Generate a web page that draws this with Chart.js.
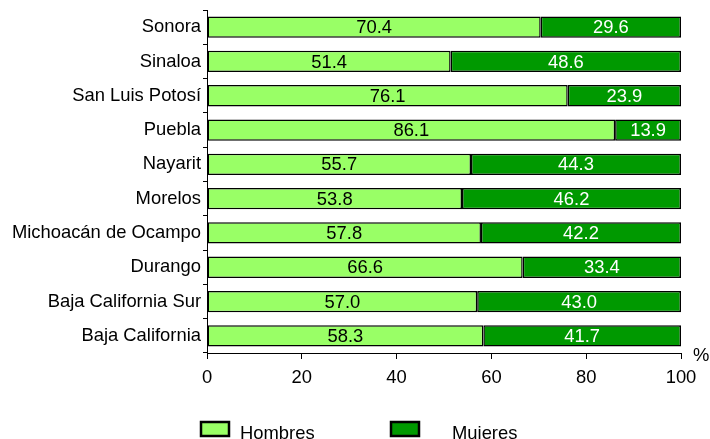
<!DOCTYPE html>
<html>
<head>
<meta charset="utf-8">
<script src="https://cdn.jsdelivr.net/npm/chart.js@4"></script>
<style>
html,body{margin:0;padding:0;background:#fff;}
#wrap{width:710px;height:439px;position:relative;}
</style>
</head>
<body>
<div id="wrap"><canvas id="c" width="710" height="439"></canvas></div>
<script>
const categories = ["Sonora","Sinaloa","San Luis Potosí","Puebla","Nayarit","Morelos","Michoacán de Ocampo","Durango","Baja California Sur","Baja California"];
const hombres = [70.4, 51.4, 76.1, 86.1, 55.7, 53.8, 57.8, 66.6, 57.0, 58.3];
const mujeres = [29.6, 48.6, 23.9, 13.9, 44.3, 46.2, 42.2, 33.4, 43.0, 41.7];
const seriesNames = ["Hombres","Mujeres"];
const xTicks = [0,20,40,60,80,100];
const axisUnit = "%";

const FONT = "'Liberation Sans', Arial, sans-serif";
const FS = 18.4;
const LIGHT = "#99FF66", DARK = "#009900";

const labelPlugin = {
  id: 'barLabels',
  afterDatasetsDraw(chart) {
    const ctx = chart.ctx;
    ctx.save();
    ctx.font = FS + "px " + FONT;
    ctx.textAlign = 'center';
    ctx.textBaseline = 'middle';
    chart.data.datasets.forEach((ds, di) => {
      const meta = chart.getDatasetMeta(di);
      meta.data.forEach((bar, i) => {
        const v = ds.data[i];
        const cx = (bar.x + bar.base) / 2;
        ctx.fillStyle = di === 0 ? '#000' : '#fff';
        ctx.fillText(v.toFixed(1), cx, bar.y + 1);
      });
    });
    // unit label
    const xs = chart.scales.x;
    ctx.fillStyle = '#000';
    ctx.textAlign = 'left';
    ctx.fillText(axisUnit, xs.right + 12, xs.top + 3);
    // legend
    const items = [{x:201, tx:240}, {x:391, tx:452}];
    chart.data.datasets.forEach((ds, di) => {
      const it = items[di];
      ctx.fillStyle = ds.backgroundColor;
      ctx.fillRect(it.x, 422, 28, 14);
      ctx.lineWidth = 2.5;
      ctx.strokeStyle = '#000';
      ctx.strokeRect(it.x, 422, 28, 14);
      ctx.fillStyle = '#000';
      ctx.textAlign = 'left';
      ctx.textBaseline = 'alphabetic';
      ctx.fillText(ds.label, it.tx, 438.5);
      ctx.textBaseline = 'middle';
    });
    ctx.restore();
  }
};

new Chart(document.getElementById('c'), {
  type: 'bar',
  data: {
    labels: categories,
    datasets: [
      {label: seriesNames[0], data: hombres, backgroundColor: LIGHT, borderColor: '#000', borderWidth: 1.5, borderSkipped: false},
      {label: seriesNames[1], data: mujeres, backgroundColor: DARK, borderColor: '#000', borderWidth: 1.5, borderSkipped: false}
    ]
  },
  options: {
    indexAxis: 'y',
    responsive: false,
    animation: false,
    devicePixelRatio: 1,
    layout: {padding: {left: 0, right: 29, top: 10, bottom: 50}},
    datasets: {bar: {barPercentage: 0.62, categoryPercentage: 1}},
    plugins: {legend: {display: false}, tooltip: {enabled: false}},
    scales: {
      x: {
        stacked: true, min: 0, max: 100,
        afterBuildTicks(s) { s.ticks = xTicks.map(v => ({value: v})); },
        afterFit(s) { s.height = 36; s.paddingLeft = 0; s.paddingRight = 0; },
        grid: {drawOnChartArea: false, tickLength: 6, color: '#000', tickColor: '#000'},
        border: {color: '#000', width: 1},
        ticks: {color: '#000', font: {family: FONT, size: FS}, padding: 8, maxRotation: 0}
      },
      y: {
        stacked: true,
        afterFit(s) { s.width = 207; s.paddingTop = 0; s.paddingBottom = 0; },
        grid: {drawOnChartArea: false, tickLength: 4, color: '#000', tickColor: '#000', offset: true},
        border: {color: '#000', width: 1},
        ticks: {color: '#000', font: {family: FONT, size: FS}, padding: 2}
      }
    }
  },
  plugins: [labelPlugin]
});
</script>
</body>
</html>
